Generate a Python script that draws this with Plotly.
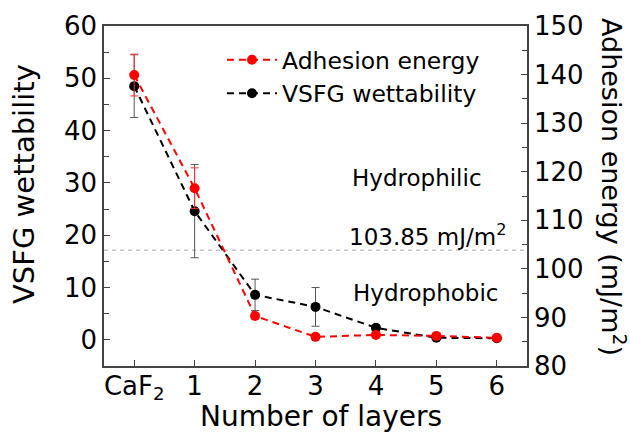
import plotly.graph_objects as go

# ---- data ----
layer_pos = [0, 1, 2, 3, 4, 5, 6]
layer_labels = ["CaF<sub>2</sub>", "1", "2", "3", "4", "5", "6"]
vsfg = [48.5, 24.6, 8.6, 6.3, 2.3, 0.4, 0.3]
vsfg_err = [6.0, 8.9, 3.0, 3.7, 0.5, 0.3, 0.3]
adhesion = [139.9, 116.6, 90.3, 86.0, 86.4, 86.2, 85.8]
adhesion_err = [4.3, 4.2, 0.6, 0.4, 0.4, 0.3, 0.3]
threshold = 103.85

FONT = "DejaVu Sans"
AX = "#444444"

fig = go.Figure()
fig.add_trace(go.Scatter(
    x=layer_pos, y=vsfg, name="VSFG wettability", yaxis="y",
    mode="lines+markers",
    line=dict(color="black", width=2, dash="7px,5px"),
    marker=dict(color="black", size=10),
    error_y=dict(type="data", array=vsfg_err, color="#555555", thickness=1, width=4),
    legendrank=2,
))
fig.add_trace(go.Scatter(
    x=layer_pos, y=adhesion, name="Adhesion energy", yaxis="y2",
    mode="lines+markers",
    line=dict(color="#ff0000", width=2, dash="7px,5px"),
    marker=dict(color="#ff0000", size=10),
    error_y=dict(type="data", array=adhesion_err, color="#ff3030", thickness=1, width=4),
    legendrank=1,
))

fig.add_shape(type="line", xref="paper", x0=0, x1=1, yref="y2", y0=threshold, y1=threshold,
              line=dict(color="#aaaaaa", width=1, dash="4px,4px"), layer="below")

L, R, T, B = 104, 103, 26, 66
PW, PH = 630 - L - R, 432 - T - B

def px(xp):
    return (xp - L) / PW

def py(yp):
    return (432 - B - yp) / PH

ann = [
    dict(text="Hydrophilic", x=px(417), y=py(178)),
    dict(text="103.85 mJ/m<sup>2</sup>", x=px(427), y=py(235)),
    dict(text="Hydrophobic", x=px(425), y=py(293)),
]
for a in ann:
    fig.add_annotation(xref="paper", yref="paper", x=a["x"], y=a["y"], text=a["text"],
                       showarrow=False, xanchor="center", yanchor="middle",
                       font=dict(family=FONT, size=23, color="black"))

fig.add_annotation(xref="paper", yref="paper", x=px(24), y=py(184), text="VSFG wettability",
                   textangle=-90, showarrow=False, xanchor="center", yanchor="middle",
                   font=dict(family=FONT, size=29, color="black"))
fig.add_annotation(xref="paper", yref="paper", x=px(614), y=py(187), text="Adhesion energy (mJ/m<sup>2</sup>)",
                   textangle=90, showarrow=False, xanchor="center", yanchor="middle",
                   font=dict(family=FONT, size=27, color="black"))
fig.add_annotation(xref="paper", yref="paper", x=px(321), y=py(417), text="Number of layers",
                   showarrow=False, xanchor="center", yanchor="middle",
                   font=dict(family=FONT, size=28, color="black"))

fig.update_layout(
    width=630, height=432,
    margin=dict(l=L, r=R, t=T, b=B, pad=0),
    paper_bgcolor="white", plot_bgcolor="white",
    font=dict(family=FONT, size=26, color="black"),
    showlegend=True,
    legend=dict(x=px(222), y=py(38), xanchor="left", yanchor="top",
                bgcolor="rgba(0,0,0,0)", font=dict(family=FONT, size=23.5),
                itemwidth=50, tracegroupgap=0),
    xaxis=dict(range=[-0.5, 6.5], tickmode="array", tickvals=layer_pos, ticktext=layer_labels,
               ticks="inside", ticklen=6, tickcolor=AX, showline=True, linecolor=AX, linewidth=1.5,
               mirror=True, showgrid=False, zeroline=False, tickfont=dict(size=26),
               ticklabelstandoff=-4),
    yaxis=dict(range=[-5, 60], tickvals=[0, 10, 20, 30, 40, 50, 60], ticks="inside", ticklen=6,
               tickcolor=AX, showline=True, linecolor=AX, linewidth=1.5, showgrid=False, zeroline=False,
               minor=dict(dtick=5, ticks="inside", ticklen=5, tickcolor=AX, showgrid=False),
               tickfont=dict(size=26)),
    yaxis2=dict(range=[80, 150], tickvals=[80, 90, 100, 110, 120, 130, 140, 150], overlaying="y",
                side="right", ticks="inside", ticklen=6, tickcolor=AX, showline=True, linecolor=AX,
                linewidth=1.5, showgrid=False, zeroline=False,
                minor=dict(dtick=5, ticks="inside", ticklen=5, tickcolor=AX, showgrid=False),
                tickfont=dict(size=26)),
)

fig.write_html("out.html", config={"displayModeBar": False},
               post_script="document.body.style.margin='0';")
